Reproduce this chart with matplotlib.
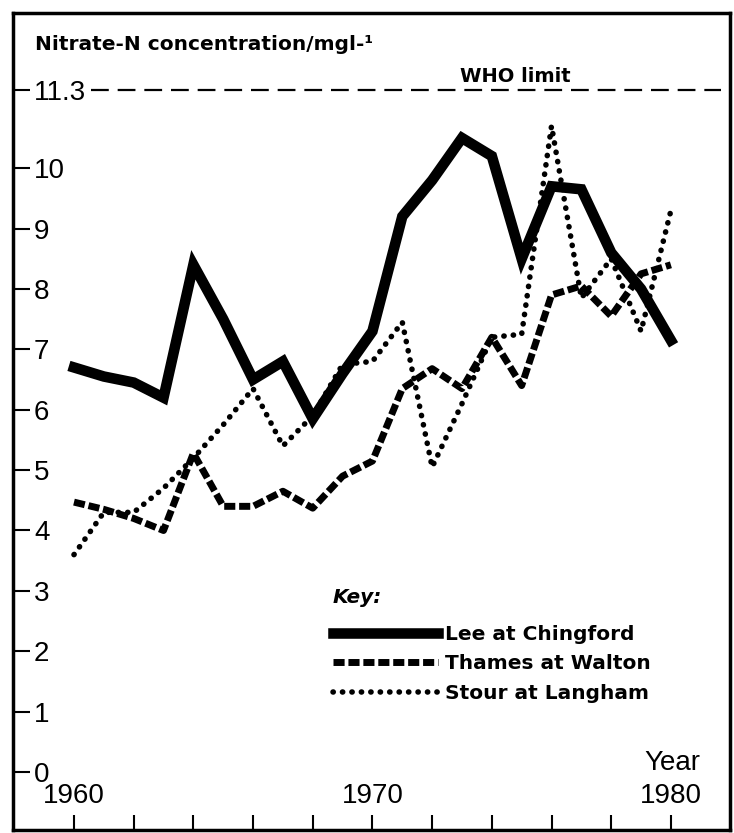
import matplotlib.pyplot as plt
import numpy as np

plt.rcParams['font.family'] = ['Liberation Sans', 'DejaVu Sans']

# data (nitrate-N, mg/l)
years = np.arange(1960, 1981)
lee = [6.7, 6.55, 6.45, 6.2, 8.4, 7.5, 6.5, 6.8, 5.85, 6.6, 7.3,
       9.2, 9.8, 10.5, 10.2, 8.5, 9.7, 9.65, 8.6, 8.0, 7.15]
thames = [4.47, 4.35, 4.2, 4.0, 5.28, 4.4, 4.4, 4.65, 4.37, 4.9, 5.15,
          6.35, 6.68, 6.35, 7.2, 6.4, 7.9, 8.05, 7.55, 8.25, 8.4]
stour = [3.6, 4.3, 4.3, 4.7, 5.2, 5.75, 6.35, 5.4, 5.9, 6.75, 6.8,
         7.45, 5.05, 6.1, 7.2, 7.25, 10.7, 7.85, 8.5, 7.3, 9.3]
who_limit = 11.3

ytick_vals = [0, 1, 2, 3, 4, 5, 6, 7, 8, 9, 10, who_limit]
ytick_labels = ['0', '1', '2', '3', '4', '5', '6', '7', '8', '9', '10', '11.3']
xtick_vals = np.arange(1960, 1981, 2)
xtick_labels = ['1960', '', '', '', '', '1970', '', '', '', '', '1980']

bold_font = ['DejaVu Sans']

fig = plt.figure(figsize=(7.34, 8.33), dpi=100)
ax = fig.add_axes([12.5 / 734, 3 / 833, (730 - 12.5) / 734, (820 - 3) / 833])

ax.plot(years, lee, color='black', lw=7.6, solid_joinstyle='miter',
        label='Lee at Chingford')
ax.plot(years, thames, color='black', lw=5, linestyle=(0, (1.6, 0.55)),
        dash_capstyle='butt', label='Thames at Walton')
ax.plot(years, stour, color='black', lw=4.0, linestyle=(0, (0.05, 1.65)),
        dash_capstyle='round', label='Stour at Langham')

# WHO limit line
ax.axhline(who_limit, xmin=0.11, xmax=0.988, color='black', lw=1.6,
           linestyle=(0, (8, 4)))
ax.text(1974.8, 11.42, 'WHO limit', fontsize=14, fontweight='bold',
        family=bold_font, ha='center', va='baseline')

ax.set_xlim(1957.94, 1981.98)
ax.set_ylim(-0.96, 12.57)

ax.set_yticks(ytick_vals)
ax.set_yticklabels(ytick_labels, fontsize=20)
for lab in ax.get_yticklabels():
    lab.set_horizontalalignment('left')
    lab.set_verticalalignment('center_baseline')
ax.tick_params(axis='y', direction='in', length=12, width=1.5, pad=-15.5)

ax.set_xticks(xtick_vals)
ax.set_xticklabels(xtick_labels, fontsize=20)
ax.tick_params(axis='x', direction='in', length=11, width=1.5, pad=-34)

for s in ax.spines.values():
    s.set_linewidth(2.5)

ax.text(0.0314, 0.9547, 'Nitrate-N concentration/mgl-¹', transform=ax.transAxes,
        fontsize=14.5, fontweight='bold', family=bold_font,
        ha='left', va='baseline')
ax.text(1981.0, 0.03, 'Year', fontsize=20, ha='right', va='baseline')

ax.text(0.4467, 0.285, 'Key:', transform=ax.transAxes, fontsize=14.5,
        fontweight='bold', fontstyle='italic', family=bold_font,
        ha='left', va='center')

leg = ax.legend(loc='upper left', bbox_to_anchor=(0.4467, 0.2504), frameon=False,
                prop={'weight': 'bold', 'size': 14.5, 'family': bold_font},
                handlelength=5.2, handletextpad=0.35, labelspacing=0.5,
                borderpad=0, borderaxespad=0)

fig.savefig('out.png', dpi=100)
